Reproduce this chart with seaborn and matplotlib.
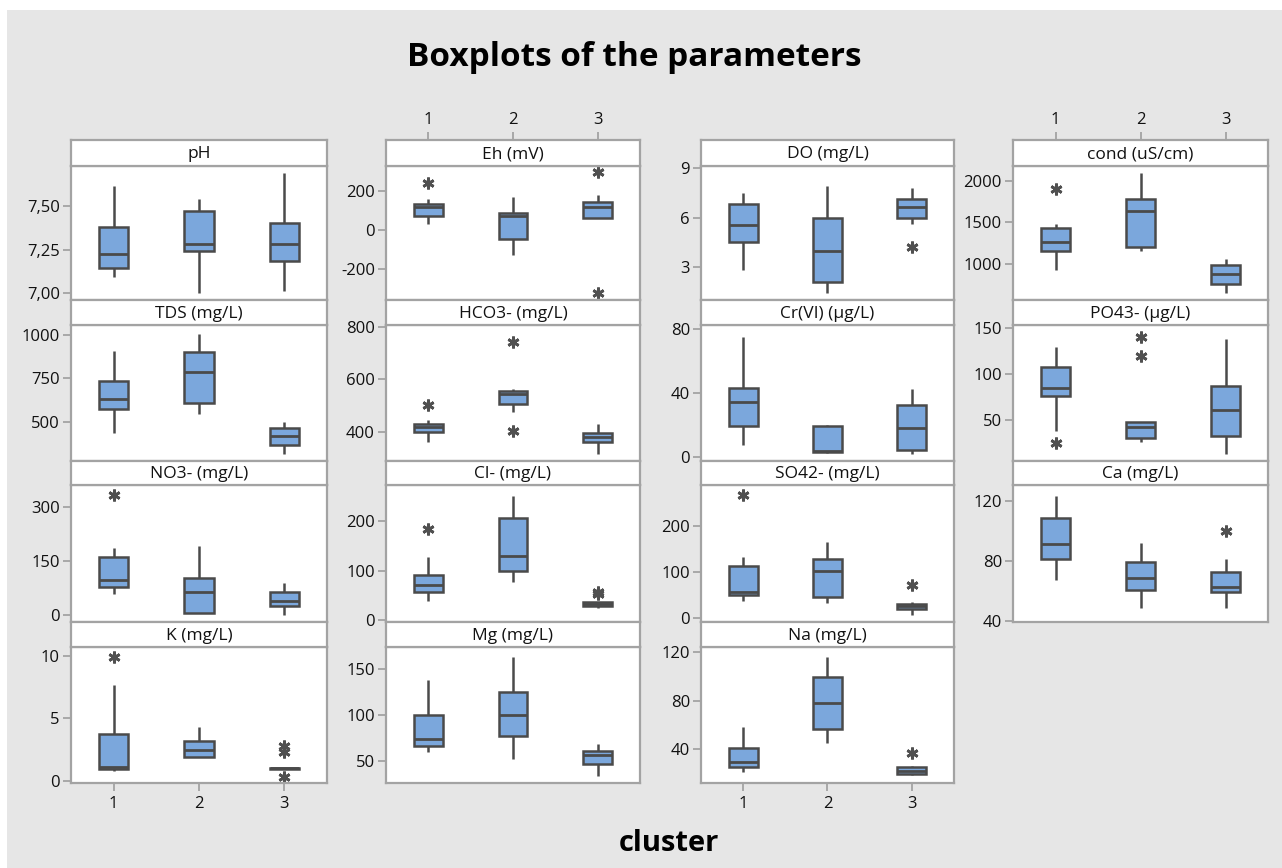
import numpy as np
import pandas as pd
import matplotlib
matplotlib.use("Agg")
import matplotlib.pyplot as plt
from matplotlib.patches import Rectangle
import seaborn as sns

sns.set_theme(style="white")
plt.rcParams['font.family'] = ['Open Sans', 'DejaVu Sans']

# ---------------- data (five-number summaries) ----------------
clusters = [1, 2, 3]
cluster_labels = ["1", "2", "3"]

# each box: [lower whisker, Q1, median, Q3, upper whisker]
ph_box = [[7.095, 7.147, 7.227, 7.378, 7.616], [7.000, 7.242, 7.282, 7.471, 7.538], [7.013, 7.185, 7.282, 7.400, 7.687]]
ph_out = [[], [], []]
eh_box = [[29, 73, 116, 133, 157], [-128, -47, 71, 85, 167], [63, 63, 116, 144, 179]]
eh_out = [[241], [], [-323, 294]]
do_box = [[2.84, 4.55, 5.56, 6.83, 7.51], [1.43, 2.14, 3.99, 6.00, 7.93], [5.60, 6.00, 6.66, 7.11, 7.77]]
do_out = [[], [], [4.2]]
cond_box = [[928, 1156, 1267, 1430, 1480], [1159, 1207, 1639, 1776, 2088], [648, 756, 876, 988, 1060]]
cond_out = [[1900], [], []]
tds_box = [[435, 574, 630, 736, 906], [546, 610, 788, 899, 1002], [315, 368, 422, 464, 498]]
tds_out = [[], [], []]
hco3_box = [[358, 398, 418, 430, 444], [476, 504, 544, 556, 563], [314, 359, 380, 393, 428]]
hco3_out = [[502], [402, 744], []]
cr_box = [[7.3, 19.2, 34.1, 42.9, 75.2], [2.5, 2.8, 3.8, 19.2, 19.9], [1.7, 4.2, 17.8, 32.4, 42.4]]
cr_out = [[], [], []]
po4_box = [[38.1, 76.6, 84.7, 107.6, 130.0], [26.4, 30.8, 42.1, 48.2, 48.2], [13, 33, 61, 87.2, 138]]
po4_out = [[24.6], [120, 141], []]
no3_box = [[58, 78, 97, 161, 186], [5, 5, 65, 103, 192], [0, 25, 39, 63, 88]]
no3_out = [[332], [], []]
cl_box = [[39, 57, 71, 91, 127], [76, 99, 130, 207, 251], [25, 28, 33, 37, 37]]
cl_out = [[185], [], [53, 56]]
so4_box = [[36, 49, 56, 113, 132], [31, 46, 101, 127, 164], [6, 19, 25, 30, 35]]
so4_out = [[266], [], [71]]
ca_box = [[67.2, 81.3, 91.2, 108.7, 123.9], [48.2, 60.5, 68.8, 79.5, 92.3], [48.2, 59.0, 62.3, 72.8, 81.1]]
ca_out = [[], [], [100.4]]
k_box = [[0.80, 0.96, 1.14, 3.73, 7.66], [1.89, 1.89, 2.47, 3.19, 4.28], [0.97, 0.97, 1.00, 1.05, 1.05]]
k_out = [[9.92], [], [0.34, 2.34, 2.79]]
mg_box = [[60.3, 66.8, 74.0, 100.0, 137.9], [52, 77.6, 100, 125.2, 163], [34, 46.6, 56.7, 61, 68.6]]
mg_out = [[], [], []]
na_box = [[21.7, 25.8, 29.4, 41.4, 58.2], [45, 56.8, 77.9, 99.2, 116.1], [19.0, 19.8, 22.5, 25.3, 26.6]]
na_out = [[], [], [36.8]]

param_names = ["pH", "Eh (mV)", "DO (mg/L)", "cond (uS/cm)",
               "TDS (mg/L)", "HCO3- (mg/L)", "Cr(VI) (µg/L)", "PO43- (µg/L)",
               "NO3- (mg/L)", "Cl- (mg/L)", "SO42- (mg/L)", "Ca (mg/L)",
               "K (mg/L)", "Mg (mg/L)", "Na (mg/L)"]
param_boxes = [ph_box, eh_box, do_box, cond_box, tds_box, hco3_box, cr_box, po4_box,
               no3_box, cl_box, so4_box, ca_box, k_box, mg_box, na_box]
param_outliers = [ph_out, eh_out, do_out, cond_out, tds_out, hco3_out, cr_out, po4_out,
                  no3_out, cl_out, so4_out, ca_out, k_out, mg_out, na_out]

y_ticks = [[7.00, 7.25, 7.50], [-200, 0, 200], [3, 6, 9], [1000, 1500, 2000],
           [500, 750, 1000], [400, 600, 800], [0, 40, 80], [50, 100, 150],
           [0, 150, 300], [0, 100, 200], [0, 100, 200], [40, 80, 120],
           [0, 5, 10], [50, 100, 150], [40, 80, 120]]
y_ticklabels = [["7,00", "7,25", "7,50"]] + [[str(v) for v in t] for t in y_ticks[1:]]
y_limits = [(6.962, 7.729), (-357, 326), (1.03, 9.12), (568, 2176),
            (277, 1055), (287, 808), (-2.7, 82.6), (5.3, 153.8),
            (-19.4, 360), (-4, 273), (-9.3, 288), (39, 131),
            (-0.16, 10.7), (26.4, 173.6), (12.4, 124)]


def sample_from_summary(box, out):
    """Surrogate sample (13 values) whose quartiles/whiskers equal the summary."""
    lo, q1, med, q3, hi = box
    low = sorted(v for v in out if v < med)
    high = sorted(v for v in out if v > med)
    L, H = len(low), len(high)
    return low + [lo] + [q1] * (4 - L) + [med] * 3 + [q3] * (4 - H) + [hi] + high


# ---------------- layout ----------------
W, H = 1282, 868
fig = plt.figure(figsize=(W / 100, H / 100), dpi=100)
fig.patch.set_facecolor("white")
fig.add_artist(Rectangle((7 / W, 0), 1 - 7 / W, 1 - 10 / H, transform=fig.transFigure,
                         facecolor="#e6e6e6", edgecolor="none", zorder=-10))

col_x = [(71, 327), (386, 640), (701, 954), (1013, 1268)]
row_plot = [(166, 300), (325, 461), (485, 622), (647, 783)]
row_strip = [(140, 166), (300, 325), (461, 485), (622, 647)]

BOX = "#7ba7dc"
EDGE = "#4a4a4a"
FRAME = "#a3a3a3"
TXT = "#111111"
TICKFS = 12


def frac(x0, x1, y0, y1):
    return [x0 / W, 1 - y1 / H, (x1 - x0) / W, (y1 - y0) / H]


for i, name in enumerate(param_names):
    r, c = divmod(i, 4)
    x0, x1 = col_x[c]
    py0, py1 = row_plot[r]
    sy0, sy1 = row_strip[r]

    rows = []
    for cl, box, out in zip(clusters, param_boxes[i], param_outliers[i]):
        for v in sample_from_summary(box, out):
            rows.append((cl, v))
    df = pd.DataFrame(rows, columns=["cluster", "value"])

    ax = fig.add_axes(frac(x0, x1, py0, py1))
    ax.set_facecolor("white")
    sns.boxplot(data=df, x="cluster", y="value", order=clusters, ax=ax,
                color=BOX, saturation=1, width=0.34, linecolor=EDGE, linewidth=1.8,
                showcaps=False,
                flierprops=dict(marker=(6, 2, 0), markersize=8.5, markeredgewidth=2,
                                markeredgecolor="#505050", markerfacecolor="#505050"),
                medianprops=dict(color=EDGE, linewidth=2))
    ax.set_xlim(-0.5, 2.5)
    ax.set_ylim(*y_limits[i])
    ax.set_xlabel("")
    ax.set_ylabel("")
    ax.set_yticks(y_ticks[i])
    ax.set_yticklabels(y_ticklabels[i])
    ax.tick_params(axis="y", left=True, length=6, width=1.3, color=FRAME,
                   labelsize=TICKFS, labelcolor=TXT, pad=2)
    bottom_labels = (r == 3 and c in (0, 2))
    if bottom_labels:
        ax.set_xticks([0, 1, 2])
        ax.set_xticklabels(cluster_labels)
        ax.tick_params(axis="x", bottom=True, length=6, width=1.3, color=FRAME,
                       labelsize=TICKFS, labelcolor=TXT, pad=3)
    else:
        ax.set_xticks([0, 1, 2])
        ax.tick_params(axis="x", bottom=False, labelbottom=False)
    for s in ax.spines.values():
        s.set_visible(True)
        s.set_color(FRAME)
        s.set_linewidth(1.6)

    sax = fig.add_axes(frac(x0, x1, sy0, sy1))
    sax.set_facecolor("white")
    sax.set_xlim(-0.5, 2.5)
    sax.set_yticks([])
    sax.text(0.5, 0.45, name, ha="center", va="center", transform=sax.transAxes,
             fontsize=12.5, color=TXT)
    if r == 0 and c in (1, 3):
        sax.xaxis.tick_top()
        sax.set_xticks([0, 1, 2])
        sax.set_xticklabels(cluster_labels)
        sax.tick_params(axis="x", top=True, bottom=False, length=6, width=1.3,
                        color=FRAME, labelsize=TICKFS, labelcolor=TXT, pad=3)
    else:
        sax.set_xticks([])
    for s in sax.spines.values():
        s.set_visible(True)
        s.set_color(FRAME)
        s.set_linewidth(1.6)

fig.text(634 / W, 1 - 66 / H, "Boxplots of the parameters", ha="center", va="baseline",
         fontsize=24, fontweight="bold", color="black")
fig.text(669 / W, 1 - 851 / H, "cluster", ha="center", va="baseline",
         fontsize=21, fontweight="bold", color="black")

fig.savefig("out.png", dpi=100, facecolor=fig.get_facecolor())
